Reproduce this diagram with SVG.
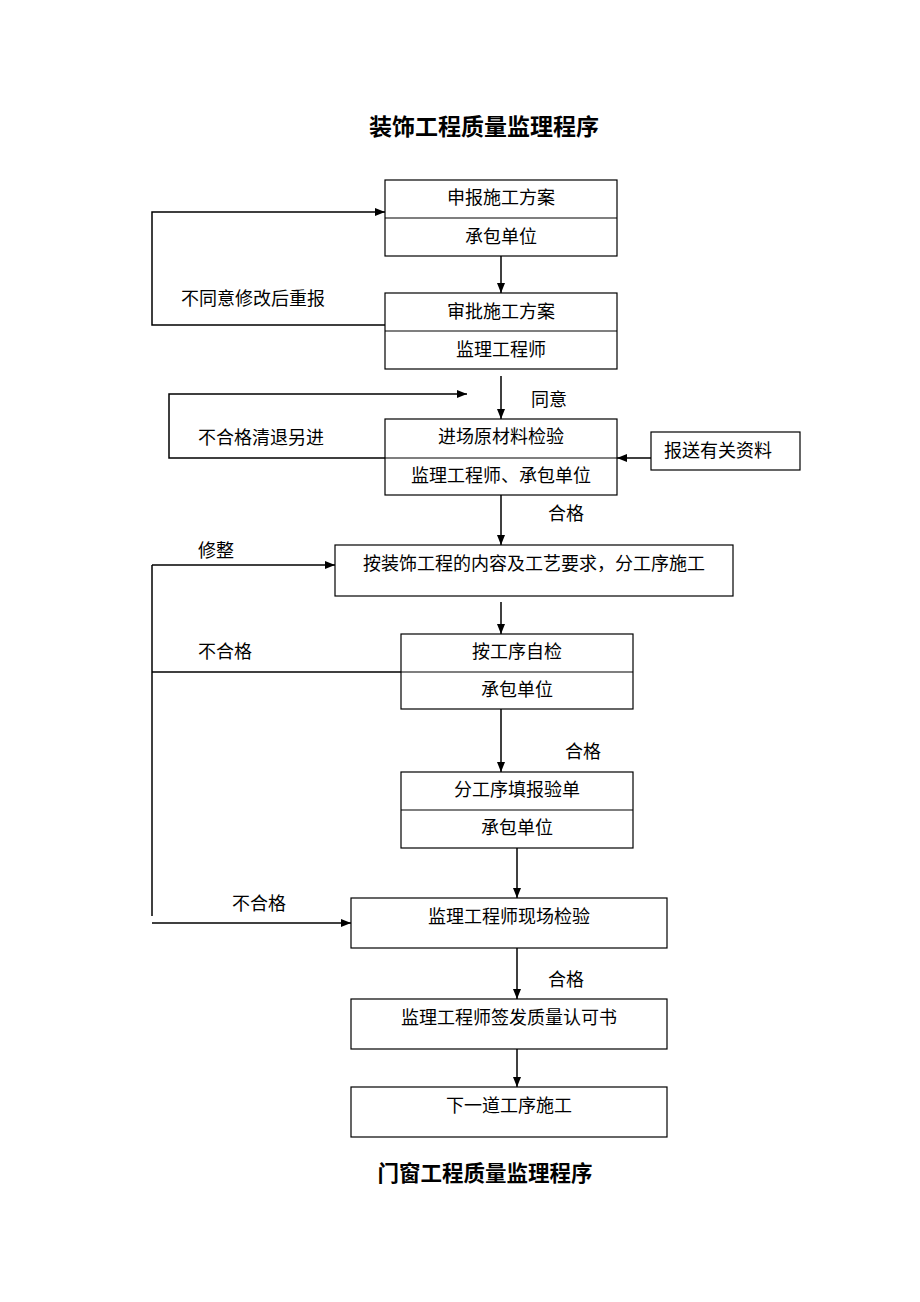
<svg xmlns="http://www.w3.org/2000/svg" width="920" height="1302" viewBox="0 0 920 1302">
<style>
text{font-family:"Liberation Serif","Noto Sans CJK SC",serif;font-size:18px;fill:#000;dominant-baseline:central}
.c{text-anchor:middle}
.t{font-size:23px;font-weight:bold;text-anchor:middle}
.box{fill:#fff;stroke:#000;stroke-width:1.2}
.div{stroke:#000;stroke-width:1.2}
.ln{fill:none;stroke:#000;stroke-width:1.5}
.ar{fill:none;stroke:#000;stroke-width:1.5;marker-end:url(#ah)}
</style>
<defs>
<marker id="ah" markerWidth="10" markerHeight="8" refX="10" refY="4" orient="auto" markerUnits="userSpaceOnUse">
<path d="M0,0 L10,4 L0,8 Z" fill="#000"/>
</marker>
</defs>
<rect width="920" height="1302" fill="#fff"/>
<text class="t" x="484" y="127">装饰工程质量监理程序</text>
<text class="t" x="485" y="1174" style="font-size:21.5px">门窗工程质量监理程序</text>

<g id="connectors">
<path class="ar" d="M501,256 V293"/>
<path class="ar" d="M385,325 H152 V212 H385"/>
<path class="ar" d="M501,376 V419"/>
<path class="ar" d="M385,458 H169 V394 H467"/>
<path class="ar" d="M651,458 H617"/>
<path class="ar" d="M501,495 V545"/>
<path class="ln" d="M152,916 V565"/>
<path class="ar" d="M152,565 H335"/>
<path class="ar" d="M501,602 V634"/>
<path class="ln" d="M401,672 H152"/>
<path class="ar" d="M501,709 V772"/>
<path class="ar" d="M517,848 V898"/>
<path class="ar" d="M152,923 H351"/>
<path class="ar" d="M517,948 V999"/>
<path class="ar" d="M517,1049 V1087"/>
<text x="181" y="299">不同意修改后重报</text>
<text x="531" y="400">同意</text>
<text x="198" y="438">不合格清退另进</text>
<text x="548" y="514">合格</text>
<text x="198" y="551">修整</text>
<text x="198" y="652">不合格</text>
<text x="565" y="752">合格</text>
<text x="232" y="904">不合格</text>
<text x="548" y="980">合格</text>
</g>

<g id="n1">
<rect class="box" x="385" y="180" width="232" height="76"/>
<line class="div" x1="385" y1="218" x2="617" y2="218"/>
<text class="c" x="501" y="198">申报施工方案</text>
<text class="c" x="501" y="237">承包单位</text>
</g>
<g id="n2">
<rect class="box" x="385" y="293" width="232" height="76"/>
<line class="div" x1="385" y1="331" x2="617" y2="331"/>
<text class="c" x="501" y="312">审批施工方案</text>
<text class="c" x="501" y="350">监理工程师</text>
</g>
<g id="n3">
<rect class="box" x="385" y="419" width="232" height="76"/>
<line class="div" x1="385" y1="458" x2="617" y2="458"/>
<text class="c" x="501" y="437">进场原材料检验</text>
<text class="c" x="501" y="476">监理工程师、承包单位</text>
</g>
<g id="n3b">
<rect class="box" x="651" y="432" width="149" height="38"/>
<text class="c" x="718" y="451">报送有关资料</text>
</g>
<g id="n4">
<rect class="box" x="335" y="545" width="398" height="51"/>
<text class="c" x="534" y="564">按装饰工程的内容及工艺要求，分工序施工</text>
</g>
<g id="n5">
<rect class="box" x="401" y="634" width="232" height="75"/>
<line class="div" x1="401" y1="672" x2="633" y2="672"/>
<text class="c" x="517" y="652">按工序自检</text>
<text class="c" x="517" y="690">承包单位</text>
</g>
<g id="n6">
<rect class="box" x="401" y="772" width="232" height="76"/>
<line class="div" x1="401" y1="810" x2="633" y2="810"/>
<text class="c" x="517" y="790">分工序填报验单</text>
<text class="c" x="517" y="828">承包单位</text>
</g>
<g id="n7">
<rect class="box" x="351" y="898" width="316" height="50"/>
<text class="c" x="509" y="917">监理工程师现场检验</text>
</g>
<g id="n8">
<rect class="box" x="351" y="999" width="316" height="50"/>
<text class="c" x="509" y="1018">监理工程师签发质量认可书</text>
</g>
<g id="n9">
<rect class="box" x="351" y="1087" width="316" height="50"/>
<text class="c" x="509" y="1106">下一道工序施工</text>
</g>
</svg>
